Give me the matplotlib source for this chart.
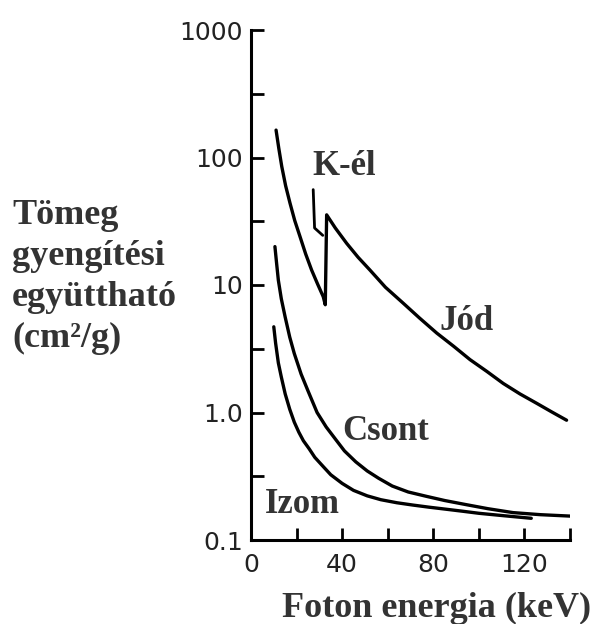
"""Tömeg gyengítési együttható vs. foton energia: jód, csont, izom."""

import matplotlib
matplotlib.use("Agg")
import matplotlib.pyplot as plt
from matplotlib.ticker import FixedLocator, NullFormatter

# Jód (K-él ugrással ~33 keV-nél)
jod_energy = [11.0, 12.2, 13.5, 15.2, 17.1, 19.2, 21.5, 24.0, 26.6, 29.2, 31.7, 32.6,
              33.2, 37.0, 42.0, 47.0, 52.2, 59.0, 66.8, 74.0, 81.5, 89.0, 96.1,
              103.5, 110.7, 118.0, 125.4, 132.0, 138.5]
jod_mu = [164, 118, 85, 60, 44, 32, 24, 17.5, 13.1, 10.2, 8.1, 7.0,
          35.5, 28.0, 21.2, 16.5, 13.1, 9.6, 7.2, 5.5, 4.2, 3.3, 2.6,
          2.1, 1.69, 1.40, 1.18, 1.01, 0.87]

# Csont
csont_energy = [10.5, 11.2, 12.0, 13.3, 15.0, 17.0, 19.0, 22.0, 25.0, 29.0, 33.0,
                37.0, 41.0, 46.0, 51.0, 56.0, 62.0, 69.0, 77.0, 85.0, 94.0, 104.0,
                115.0, 127.0, 140.0]
csont_mu = [20.0, 15.0, 10.9, 7.8, 5.6, 3.9, 2.9, 2.0, 1.48, 1.0, 0.77,
            0.62, 0.50, 0.41, 0.348, 0.305, 0.265, 0.238, 0.22, 0.204, 0.19, 0.176,
            0.164, 0.158, 0.154]

# Izom
izom_energy = [10.0, 10.8, 12.0, 13.3, 15.0, 17.0, 19.0, 21.0, 23.0, 25.5, 28.0,
               31.5, 35.0, 40.0, 45.0, 51.0, 57.0, 64.0, 71.0, 78.0, 86.0, 93.0,
               100.0, 111.0, 123.0]
izom_mu = [4.7, 3.5, 2.45, 1.9, 1.4, 1.06, 0.84, 0.70, 0.60, 0.52, 0.445,
           0.38, 0.325, 0.278, 0.245, 0.222, 0.207, 0.196, 0.188, 0.181, 0.174, 0.168,
           0.162, 0.155, 0.148]

# K-él mutató vonal
kel_energy = [27.3, 27.9, 31.5]
kel_mu = [56.0, 28.0, 24.5]

y_ticks = [0.1, 1, 10, 100, 1000]
y_ticklabels = ["0.1", "1.0", "10", "100", "1000"]
y_minor = [0.316, 3.16, 31.6, 316]
x_ticks = [0, 40, 80, 120]
x_ticklabels = ["0", "40", "80", "120"]
x_minor = [20, 60, 100, 140]

SERIF = "Liberation Serif"
TEXT_COLOR = "#333333"
LW = 2.4


def main():
    fig = plt.figure(figsize=(5.93, 6.24), dpi=100)
    ax = fig.add_axes([251 / 593, 1 - 540 / 624, 319 / 593, 510 / 624])

    for e, mu in [(jod_energy, jod_mu), (csont_energy, csont_mu), (izom_energy, izom_mu)]:
        ax.plot(e, mu, color="black", lw=LW, solid_joinstyle="round",
                solid_capstyle="round")
    ax.plot(kel_energy, kel_mu, color="black", lw=2.0, solid_capstyle="round")

    ax.set_yscale("log")
    ax.set_xlim(0, 140)
    ax.set_ylim(0.1, 1000)

    for side in ["top", "right"]:
        ax.spines[side].set_visible(False)
    for side in ["left", "bottom"]:
        ax.spines[side].set_linewidth(2.2)

    ax.yaxis.set_major_locator(FixedLocator(y_ticks))
    ax.yaxis.set_minor_locator(FixedLocator(y_minor))
    ax.yaxis.set_minor_formatter(NullFormatter())
    ax.set_yticklabels(y_ticklabels)
    ax.xaxis.set_major_locator(FixedLocator(x_ticks))
    ax.xaxis.set_minor_locator(FixedLocator(x_minor))
    ax.set_xticklabels(x_ticklabels)

    ax.tick_params(which="both", direction="in", length=9, width=2.0,
                   labelsize=18, color="black", labelcolor="#222222")
    ax.tick_params(axis="y", pad=6)
    ax.tick_params(axis="x", pad=9)

    font = dict(family=SERIF, weight="bold", color=TEXT_COLOR)
    ax.text(26.8, 73, "K-él", fontsize=25, va="baseline", **font)
    ax.text(82.9, 4.44, "Jód", fontsize=25, va="baseline", **font)
    ax.text(39.9, 0.608, "Csont", fontsize=25, va="baseline", **font)
    ax.text(6.1, 0.163, "Izom", fontsize=25, va="baseline", **font)

    fig.text(437 / 593, 1 - 617 / 624, "Foton energia (keV)", fontsize=26,
             ha="center", va="baseline", **font)
    fig.text(12 / 593, 1 - 277 / 624, "Tömeg\ngyengítési\negyüttható\n(cm²/g)",
             fontsize=26, ha="left", va="center", linespacing=1.32, **font)

    fig.savefig("out.png", dpi=100)


if __name__ == "__main__":
    main()
